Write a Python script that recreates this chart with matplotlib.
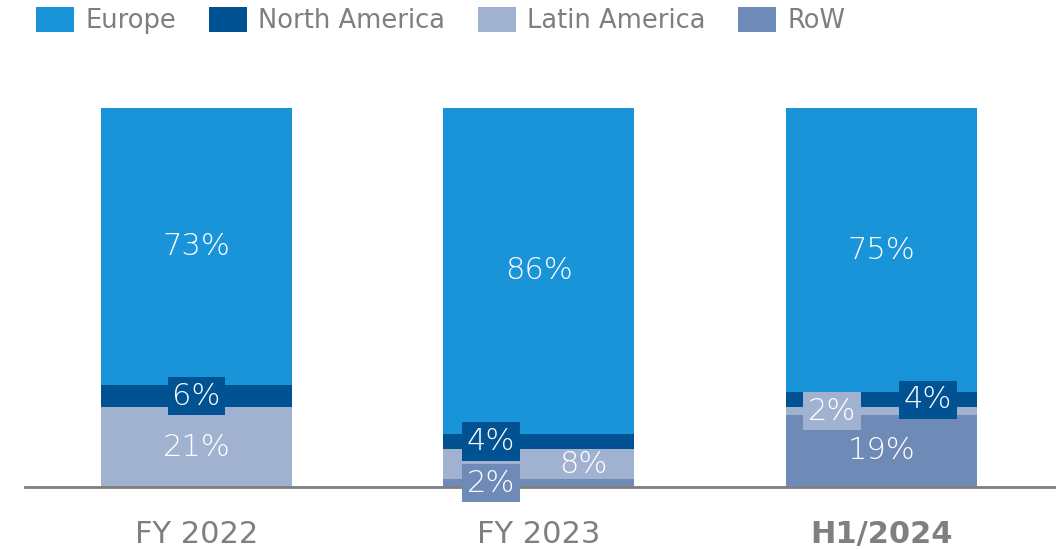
import matplotlib.pyplot as plt
import numpy as np

# data
periods = ["FY 2022", "FY 2023", "H1/2024"]
regions = ["Europe", "North America", "Latin America", "RoW"]
europe = [73, 86, 75]
north_america = [6, 4, 4]
latin_america = [21, 8, 2]
row = [0, 2, 19]

COLS = {
    "Europe": "#1a94d8",
    "North America": "#005293",
    "Latin America": "#a0b2cf",
    "RoW": "#6e8bb8",
}
GREY = "#7f7f7f"

fig = plt.figure(figsize=(10.56, 5.49), dpi=100)
ax = fig.add_axes([25 / 1056, 62 / 549, 1031 / 1056, 379 / 549])

x = np.arange(len(periods))
width = 0.558
stack = [("RoW", row), ("Latin America", latin_america),
         ("North America", north_america), ("Europe", europe)]
bottom = np.zeros(len(periods))
bars = {}
segs = {}
for name, vals in stack:
    vals = np.array(vals, dtype=float)
    bars[name] = ax.bar(x, vals, width, bottom=bottom, color=COLS[name],
                        label=name, linewidth=0)
    segs[name] = (bottom.copy(), vals)
    bottom = bottom + vals


def label(name, i, dx=0.0, boxed=False):
    b, v = segs[name]
    kw = {}
    if boxed:
        kw["bbox"] = dict(boxstyle="square,pad=0.15", facecolor=COLS[name],
                          edgecolor="none")
    ax.text(x[i] + dx, b[i] + v[i] / 2, f"{int(v[i])}%", ha="center",
            va="center", color="white", fontsize=22, fontweight="light",
            family="DejaVu Sans", **kw)


# big labels in the segments
label("Europe", 0)
label("Europe", 1)
label("Europe", 2)
label("Latin America", 0)
label("RoW", 2)
label("Latin America", 1, dx=0.13)
# small boxed labels
label("North America", 0, boxed=True)
label("North America", 1, dx=-0.14, boxed=True)
label("RoW", 1, dx=-0.14, boxed=True)
label("Latin America", 2, dx=-0.143, boxed=True)
label("North America", 2, dx=0.137, boxed=True)

ax.set_xlim(-0.501, 2.511)
ax.set_ylim(0, 100)
for s in ["top", "right", "left"]:
    ax.spines[s].set_visible(False)
ax.spines["bottom"].set_color(GREY)
ax.spines["bottom"].set_linewidth(2)
ax.set_yticks([])
ax.set_xticks(x)
ax.set_xticklabels(periods, fontsize=22, color=GREY, family="DejaVu Sans")
ax.tick_params(axis="x", length=0, pad=24)
ax.get_xticklabels()[2].set_fontweight("bold")

handles = [bars[r] for r in regions]
fs = 18.5
fs_px = fs * 100 / 72
fig.legend(handles, regions, loc="upper left", bbox_to_anchor=(36 / 1056, 542 / 549),
           ncol=4, frameon=False, borderpad=0, borderaxespad=0,
           handlelength=38 / fs_px, handleheight=29 / fs_px,
           handletextpad=11 / fs_px, columnspacing=33 / fs_px,
           prop={"family": "DejaVu Sans", "size": fs}, labelcolor=GREY)

plt.savefig("out.png", dpi=100)
